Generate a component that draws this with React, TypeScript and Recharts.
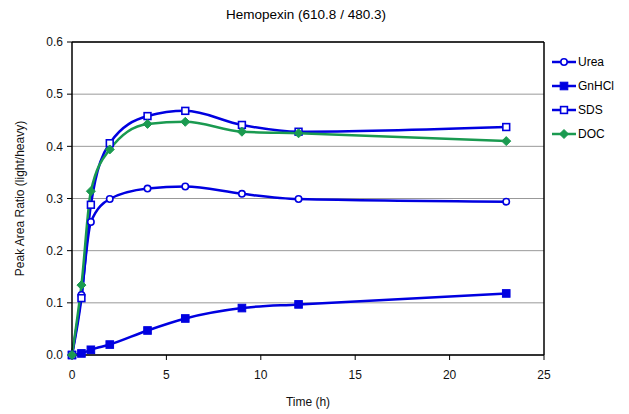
import React from 'react';
import { LineChart, Line, XAxis, YAxis, CartesianGrid, ReferenceLine } from 'recharts';

// sampling times (h)
const times = [0, 0.5, 1, 2, 4, 6, 9, 12, 23];

// peak area ratios per denaturant
const urea = [0, 0.115, 0.255, 0.299, 0.319, 0.323, 0.309, 0.299, 0.294];
const gnhcl = [0, 0.003, 0.01, 0.02, 0.047, 0.07, 0.09, 0.097, 0.118];
const sds = [0, 0.109, 0.288, 0.406, 0.458, 0.468, 0.441, 0.428, 0.437];
const doc = [0, 0.134, 0.314, 0.394, 0.443, 0.447, 0.428, 0.425, 0.41];

const xTicks = [0, 5, 10, 15, 20, 25];
const yTicks = [0, 0.1, 0.2, 0.3, 0.4, 0.5, 0.6];

const BLUE = '#0000e0';
const GREEN = '#1a9a50';
const FONT = '"Liberation Sans", Arial, sans-serif';

const data = times.map((t, i) => ({
  t,
  Urea: urea[i],
  GnHCl: gnhcl[i],
  SDS: sds[i],
  DOC: doc[i],
}));

type Shape = 'circle' | 'square' | 'openSquare' | 'diamond';

const Marker = ({ shape, cx, cy, color }: { shape: Shape; cx: number; cy: number; color: string }) => {
  if (shape === 'circle') {
    return <circle cx={cx} cy={cy} r={3.2} fill="#fff" stroke={color} strokeWidth={1.6} />;
  }
  if (shape === 'square') {
    return <rect x={cx - 3.8} y={cy - 3.8} width={7.6} height={7.6} fill={color} stroke={color} />;
  }
  if (shape === 'openSquare') {
    return <rect x={cx - 3.4} y={cy - 3.4} width={6.8} height={6.8} fill="#fff" stroke={color} strokeWidth={1.6} />;
  }
  return (
    <polygon
      points={`${cx},${cy - 4.5} ${cx + 4.5},${cy} ${cx},${cy + 4.5} ${cx - 4.5},${cy}`}
      fill={color}
      stroke={color}
    />
  );
};

const series: { key: string; color: string; shape: Shape }[] = [
  { key: 'Urea', color: BLUE, shape: 'circle' },
  { key: 'GnHCl', color: BLUE, shape: 'square' },
  { key: 'SDS', color: BLUE, shape: 'openSquare' },
  { key: 'DOC', color: GREEN, shape: 'diamond' },
];

const makeDot = (shape: Shape, color: string) => (props: any) => {
  const { cx, cy, index } = props;
  if (cx == null || cy == null) return <g key={`d-${index}`} />;
  return (
    <g key={`d-${shape}-${index}`}>
      <Marker shape={shape} cx={cx} cy={cy} color={color} />
    </g>
  );
};

// legend sits outside the plot, like the Excel original
const CustomLegend = () => (
  <div style={{ position: 'absolute', left: 552, top: 50, fontFamily: FONT, fontSize: 12, color: '#000' }}>
    {series.map((s) => (
      <div key={s.key} style={{ display: 'flex', alignItems: 'center', height: 24 }}>
        <svg width={24} height={12} style={{ marginRight: 2 }}>
          <line x1={0} y1={6} x2={24} y2={6} stroke={s.color} strokeWidth={2.5} />
          <Marker shape={s.shape} cx={12} cy={6} color={s.color} />
        </svg>
        <span>{s.key}</span>
      </div>
    ))}
  </div>
);

export default function App() {
  return (
    <div style={{ position: 'absolute', left: 0, top: 0, width: 629, height: 414, background: '#fff' }}>
      <div
        style={{
          position: 'absolute',
          left: 0,
          top: 7,
          width: 612,
          textAlign: 'center',
          fontFamily: FONT,
          fontSize: 13.5,
          color: '#000',
        }}
      >
        Hemopexin (610.8 / 480.3)
      </div>
      <LineChart width={629} height={414} data={data} margin={{ top: 42, right: 85, bottom: 0, left: 0 }}>
        <CartesianGrid horizontal vertical={false} stroke="#999" strokeWidth={1} />
        <XAxis
          dataKey="t"
          type="number"
          domain={[0, 25]}
          ticks={xTicks}
          height={59}
          axisLine={{ stroke: '#000', strokeWidth: 1.5 }}
          tickLine={{ stroke: '#000' }}
          tickSize={5}
          tick={{ fill: '#111', fontSize: 12, fontFamily: FONT }}
          tickMargin={10}
          label={{ value: 'Time (h)', position: 'insideBottom', offset: 8, fill: '#111', fontSize: 12, fontFamily: FONT }}
        />
        <YAxis
          type="number"
          domain={[0, 0.6]}
          ticks={yTicks}
          width={72}
          axisLine={{ stroke: '#000', strokeWidth: 1.5 }}
          tickLine={{ stroke: '#000' }}
          tickSize={5}
          tickMargin={4}
          tickFormatter={(v: number) => v.toFixed(1)}
          tick={{ fill: '#111', fontSize: 12, fontFamily: FONT }}
          label={{
            value: 'Peak Area Ratio (light/heavy)',
            angle: -90,
            position: 'insideLeft',
            offset: 20,
            fill: '#111',
            fontSize: 12,
            fontFamily: FONT,
            style: { textAnchor: 'middle' },
          }}
        />
        <ReferenceLine y={0.6} stroke="#000" strokeWidth={1.5} />
        <ReferenceLine x={25} stroke="#000" strokeWidth={1.5} />
        {series.map((s) => (
          <Line
            key={s.key}
            dataKey={s.key}
            type="monotone"
            stroke={s.color}
            strokeWidth={2.5}
            dot={makeDot(s.shape, s.color)}
            activeDot={false}
            isAnimationActive={false}
          />
        ))}
      </LineChart>
      <CustomLegend />
    </div>
  );
}
